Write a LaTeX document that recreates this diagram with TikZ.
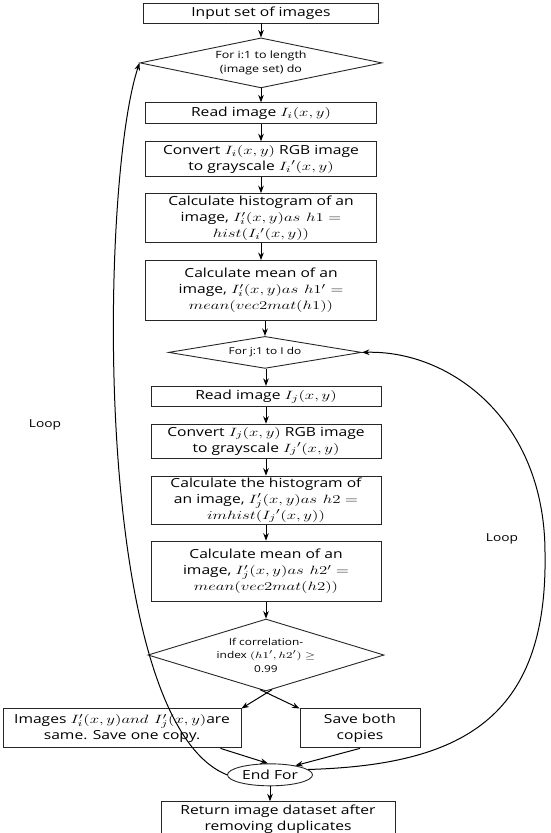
\documentclass[tikz,border=0pt]{standalone}
\usepackage{fontspec}
\setmainfont{Open Sans}[FakeStretch=1.25]
\usetikzlibrary{positioning,arrows.meta,shapes.geometric,calc}
\newcommand{\mth}[1]{\scalebox{1.4}[1]{$#1$}}

\begin{document}
\begin{tikzpicture}[x=1pt,y=-1pt,node distance=17pt,>=Stealth,
box/.style={draw=black!85,line width=0.9pt,align=center,inner sep=1.5pt,font=\fontsize{12.5}{16}\selectfont},
dec/.style={draw=black!85,line width=0.9pt,diamond,aspect=4,inner sep=0pt,align=center,font=\fontsize{10}{13.5}\selectfont},
flow/.style={->,line width=1pt}]
\useasboundingbox (0,0) rectangle (550,833);
% outer loop over the image set
\node[box,minimum width=235pt,minimum height=20pt] (input) at (261,13) {Input set of images};
\node[dec,minimum width=242pt,minimum height=50pt,below=14pt of input] (fori) {For i:1 to length\\(image set) do};
\node[box,minimum width=231pt,minimum height=21pt,below=14pt of fori] (readi) {Read image \mth{I_i(x,y)}};
\node[box,minimum width=231pt,minimum height=35pt,below=of readi] (convi) {Convert \mth{I_i(x,y)} RGB image\\to grayscale \mth{I_i{}'(x,y)}};
\node[box,minimum width=231pt,minimum height=49pt,below=16pt of convi] (histi) {Calculate histogram of an\\image, \mth{I_i'(x,y) as\ h1 =}\\\mth{hist(I_i{}'(x,y))}};
\node[box,minimum width=231pt,minimum height=60pt,below=of histi] (meani) {Calculate mean of an\\image, \mth{I_i'(x,y) as\ h1' =}\\\mth{mean(vec2mat(h1))}};
% inner loop
\node[dec,minimum width=193pt,minimum height=32pt,below=15pt of meani,xshift=4pt,font=\fontsize{9.5}{11}\selectfont] (forj) {For j:1 to I do};
\node[box,minimum width=230pt,minimum height=20pt,below=of forj,xshift=1pt] (readj) {Read image \mth{I_j(x,y)}};
\node[box,minimum width=230pt,minimum height=34pt,below=of readj] (convj) {Convert \mth{I_j(x,y)} RGB image\\to grayscale \mth{I_j{}'(x,y)}};
\node[box,minimum width=230pt,minimum height=45pt,below=of convj] (histj) {Calculate the histogram of\\an image, \mth{I_j'(x,y) as\ h2 =}\\\mth{imhist(I_j{}'(x,y))}};
\node[box,minimum width=230pt,minimum height=60pt,below=16pt of histj] (meanj) {Calculate mean of an\\image, \mth{I_j'(x,y) as\ h2' =}\\\mth{mean(vec2mat(h2))}};
\node[dec,minimum width=233pt,minimum height=72pt,below=of meanj,font=\fontsize{9.5}{13.5}\selectfont] (corr) {If correlation-\\index \mth{(h1', h2') \geq}\\0.99};
% outcomes
\node[box,minimum width=238pt,minimum height=39pt,below=of corr,xshift=-144pt] (same) {Images \mth{I_i'(x,y) and\ I_j'(x,y)}are\\same. Save one copy.};
\node[box,minimum width=120pt,minimum height=39pt,below=of corr,xshift=94pt] (both) {Save both\\copies};
\coordinate (m) at (same.south -| corr.south);
\node[box,ellipse,minimum width=85pt,minimum height=22pt,inner sep=0pt,below=15pt of m,xshift=4pt] (endfor) {End For};
\node[box,minimum width=234pt,minimum height=34pt,below=15pt of endfor,xshift=8pt] (ret) {Return image dataset after\\removing duplicates};
\node[font=\fontsize{11}{13}\selectfont] (loopi) at (45,425) {Loop};
\node[font=\fontsize{11}{13}\selectfont] (loopj) at (502,539) {Loop};

\draw[flow] (input) -- (input |- fori.north);
\draw[flow] (fori) -- (readi);
\draw[flow] (readi) -- (convi);
\draw[flow] (convi) -- (histi);
\draw[flow] (histi) -- (meani);
\draw[flow] (meani.south -| forj.north) -- (forj.north);
\draw[flow] (forj.south -| readj.north) -- (readj.north);
\draw[flow] (readj) -- (convj);
\draw[flow] (convj) -- (histj);
\draw[flow] (histj) -- (meanj);
\draw[flow] (meanj) -- (corr);
\draw[flow] (corr.-80) -- (same.north east);
\draw[flow] (corr.-100) -- (both.north west);
\draw[flow] ($(same.south east)+(-21,0)$) -- (endfor.100);
\draw[flow] (both.south) -- (endfor.20);
\draw[flow] (endfor) -- (endfor |- ret.north);
% back edges
\draw[flow] (endfor.west) .. controls (90,720) and (100,180) .. (fori.west);
\draw[flow] (endfor.8) .. controls (460,765) and (548,720) .. (545,553)
  .. controls (545,420) and (450,350) .. (forj.east);
\end{tikzpicture}
\end{document}
